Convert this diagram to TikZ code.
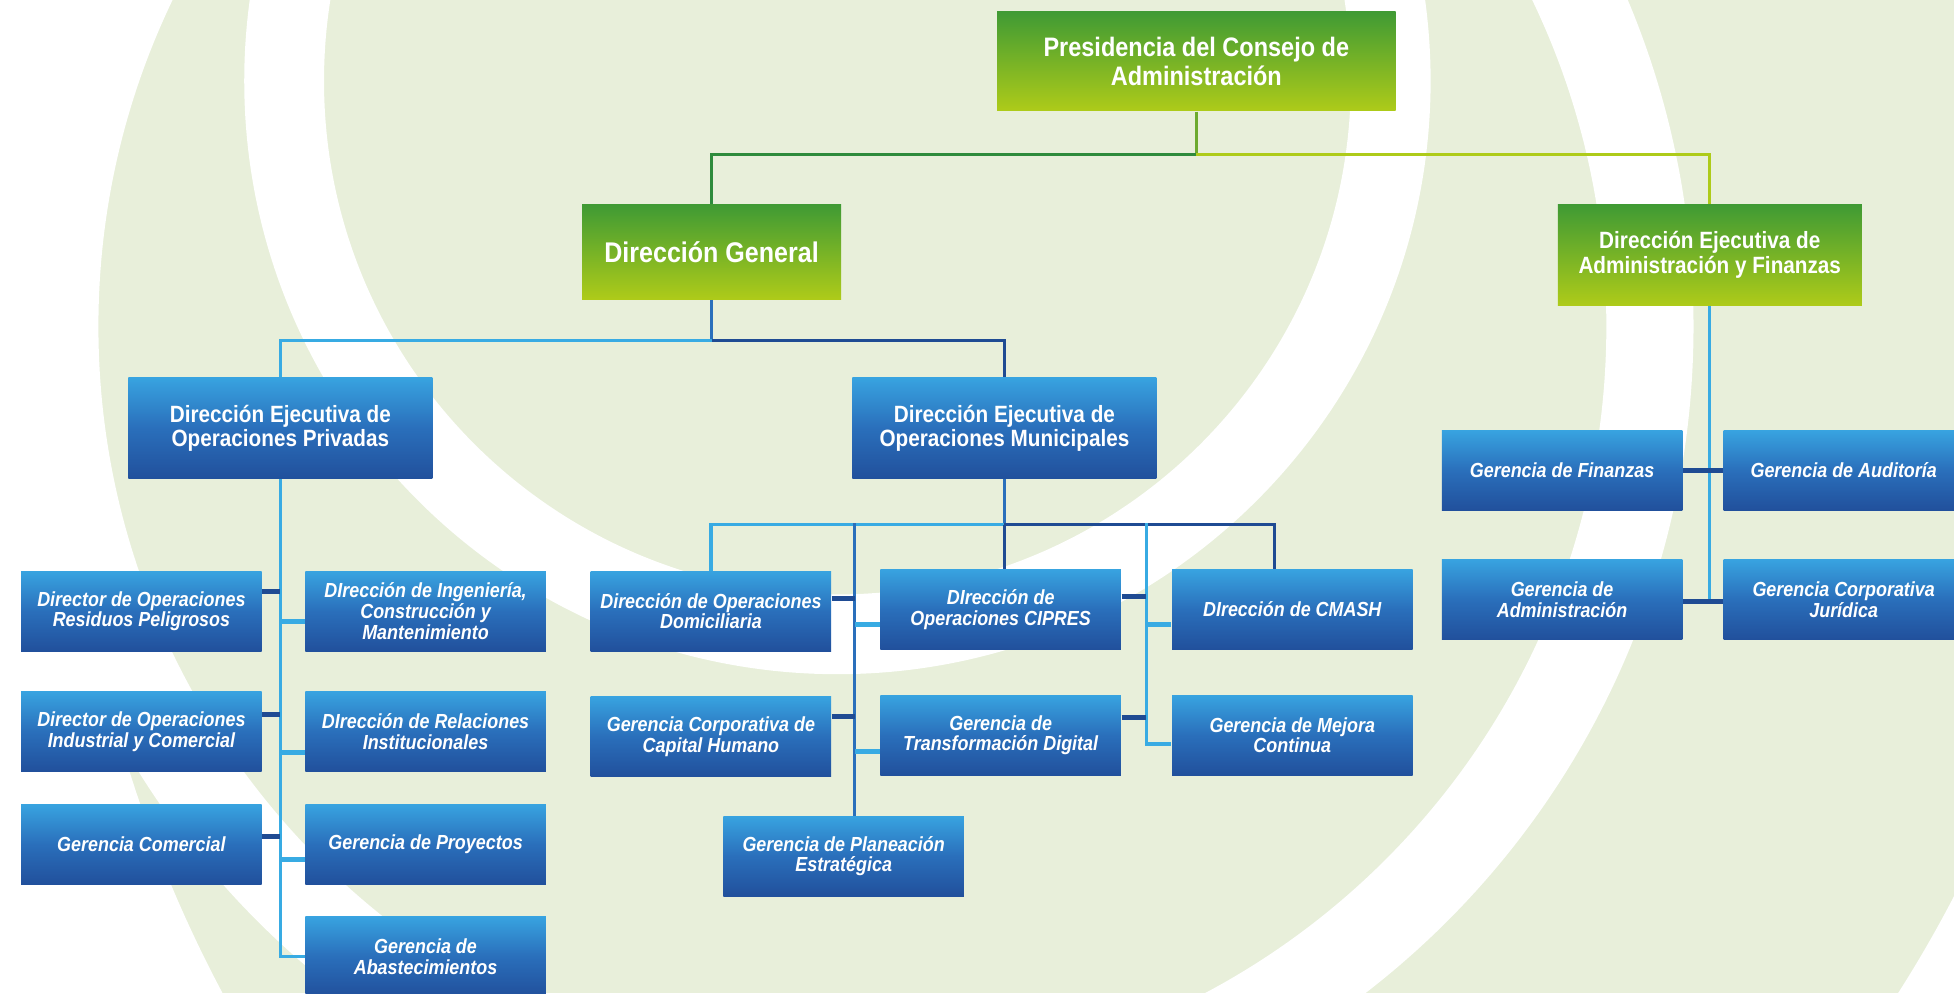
\documentclass[tikz,border=0pt]{standalone}
\usepackage{fontspec}
\setmainfont{Liberation Sans}[FakeStretch=0.88]
\usetikzlibrary{calc}
\definecolor{fondo}{HTML}{E8EFDA}
\definecolor{verdeOsc}{HTML}{3F9A34}
\definecolor{verdeLim}{HTML}{AECB19}
\definecolor{verdeMedio}{HTML}{6DAA2F}
\definecolor{lineaVerde}{HTML}{2E8B3C}
\definecolor{azulClaro}{HTML}{38A3E0}
\definecolor{azulMed}{HTML}{2A6FBB}
\definecolor{azulOsc}{HTML}{21509C}
\definecolor{lineaClara}{HTML}{38ABE3}
\definecolor{lineaOsc}{HTML}{1F4B93}

\tikzset{
  caja/.style={text=white, align=center, inner sep=1pt},
  verdeBox/.style={caja, top color=verdeOsc, bottom color=verdeLim},
  azulBox/.style={caja, top color=azulClaro, bottom color=azulOsc, middle color=azulMed},
  jefe/.style={azulBox, minimum width=3.041cm, minimum height=1.009cm,
    font=\fontsize{6.7}{6.9}\selectfont\bfseries},
  hoja/.style={azulBox, minimum width=2.405cm, minimum height=0.798cm,
    font=\fontsize{5.8}{5.9}\selectfont\bfseries\itshape},
  linea/.style={line width=0.9pt},
  tramo/.style={line width=1.4pt, lineaOsc},
}

\begin{document}
\begin{tikzpicture}[x=0.012462cm, y=-0.012462cm]
  \useasboundingbox (0,0) rectangle (1568,797);
  \clip (0,0) rectangle (1568,797);
  % fondo con los arcos blancos
  \fill[fondo] (0,0) rectangle (1568,797);
  \fill[white,even odd rule] (0,0) rectangle (1568,797) (1114,300) circle (1059);
  \fill[white,even odd rule] (0,0) rectangle (1568,797) (684,262) circle (995);
  \draw[white,line width=0.872cm] (684,262) circle (640);
  \draw[white,line width=0.798cm] (672,65) circle (444);

  % nivel superior
  \node[verdeBox, minimum width=3.988cm, minimum height=0.997cm,
    font=\fontsize{7.6}{8.2}\selectfont\bfseries] (presidencia) at (960,49)
    {Presidencia del Consejo de\\Administración};
  \node[verdeBox, minimum width=2.592cm, minimum height=0.947cm,
    font=\fontsize{8.1}{9}\selectfont\bfseries] (dirGeneral) at (571,202)
    {Dirección General};
  \node[verdeBox, minimum width=3.041cm, minimum height=1.009cm,
    font=\fontsize{6.7}{6.9}\selectfont\bfseries] (dirAdmin) at (1372,204.5)
    {Dirección Ejecutiva de\\Administración y Finanzas};
  \node[jefe] (dirPrivadas) at (225,343.5) {Dirección Ejecutiva de\\Operaciones Privadas};
  \node[jefe] (dirMunicipales) at (806,343.5) {Dirección Ejecutiva de\\Operaciones Municipales};

  % operaciones privadas
  \node[hoja] (residuos) at (113.5,490.5) {Director de Operaciones\\Residuos Peligrosos};
  \node[hoja] (ingenieria) at (341.5,490.5) {DIrección de Ingeniería,\\Construcción y\\Mantenimiento};
  \node[hoja] (industrial) at (113.5,587) {Director de Operaciones\\Industrial y Comercial};
  \node[hoja] (relaciones) at (341.5,587) {DIrección de Relaciones\\Institucionales};
  \node[hoja] (comercial) at (113.5,677.5) {Gerencia Comercial};
  \node[hoja] (proyectos) at (341.5,677.5) {Gerencia de Proyectos};
  \node[hoja] (abastecimientos) at (341.5,767.5) {Gerencia de\\Abastecimientos};

  % operaciones municipales
  \node[hoja] (domiciliaria) at (570.5,490.5) {Dirección de Operaciones\\Domiciliaria};
  \node[hoja] (cipres) at (803,489) {DIrección de\\Operaciones CIPRES};
  \node[hoja] (cmash) at (1037,489) {DIrección de CMASH};
  \node[hoja] (capitalHumano) at (570.5,591) {Gerencia Corporativa de\\Capital Humano};
  \node[hoja] (transformacion) at (803,590) {Gerencia de\\Transformación Digital};
  \node[hoja] (mejora) at (1037,590) {Gerencia de Mejora\\Continua};
  \node[hoja] (planeacion) at (677,687) {Gerencia de Planeación\\Estratégica};

  % administracion y finanzas
  \node[hoja] (finanzas) at (1253.5,377.5) {Gerencia de Finanzas};
  \node[hoja] (auditoria) at (1479.5,377.5) {Gerencia de Auditoría};
  \node[hoja] (administracion) at (1253.5,481) {Gerencia de\\Administración};
  \node[hoja] (juridica) at (1479.5,481) {Gerencia Corporativa\\Jurídica};

  % conectores de la direccion
  \draw[linea,verdeMedio] (presidencia.south) -- ++(0,34.5) coordinate (jPres);
  \draw[linea,lineaVerde] (jPres) -| (dirGeneral.north);
  \draw[linea,verdeLim] (jPres) -| (dirAdmin.north);
  \draw[linea,azulMed] (dirGeneral.south) -- ++(0,32.5) coordinate (jGeneral);
  \draw[linea,lineaClara] (jGeneral) -| (dirPrivadas.north);
  \draw[linea,lineaOsc] (jGeneral) -| (dirMunicipales.north);

  % tronco de operaciones privadas
  \draw[linea,lineaClara] (dirPrivadas.south) |- (abastecimientos.west);
  \draw[tramo] ($(residuos.east)+(0,-16)$) -- ($(residuos.east -| dirPrivadas.south)+(0,-16)$);
  \draw[tramo] ($(industrial.east)+(0,-14)$) -- ($(industrial.east -| dirPrivadas.south)+(0,-14)$);
  \draw[tramo] ($(comercial.east)+(0,-6)$) -- ($(comercial.east -| dirPrivadas.south)+(0,-6)$);
  \draw[tramo,lineaClara] ($(ingenieria.west -| dirPrivadas.south)+(0,8)$) -- ($(ingenieria.west)+(0,8)$);
  \draw[tramo,lineaClara] ($(relaciones.west -| dirPrivadas.south)+(0,17)$) -- ($(relaciones.west)+(0,17)$);
  \draw[tramo,lineaClara] ($(proyectos.west -| dirPrivadas.south)+(0,12)$) -- ($(proyectos.west)+(0,12)$);

  % troncos de operaciones municipales
  \draw[linea,azulMed] (dirMunicipales.south) -- ++(0,36.5) coordinate (jMunicipal);
  \draw[linea,lineaClara] (jMunicipal) -| (domiciliaria.north);
  \draw[linea,lineaOsc] (jMunicipal) -| ($(cmash.north)+(-14,0)$);
  \draw[linea,lineaOsc] (jMunicipal) -- (jMunicipal |- cipres.north);
  \coordinate (troncoIzq) at (686,420);
  \coordinate (troncoDer) at (920,420);
  \draw[linea,azulMed] (troncoIzq) -- (troncoIzq |- planeacion.north);
  \draw[linea,lineaClara] (troncoDer) |- ($(mejora.west)+(0,7)$);
  \draw[tramo] ($(domiciliaria.east)+(0,-10)$) -- ($(domiciliaria.east -| troncoIzq)+(0,-10)$);
  \draw[tramo] ($(capitalHumano.east)+(0,-16)$) -- ($(capitalHumano.east -| troncoIzq)+(0,-16)$);
  \draw[tramo,lineaClara] ($(cipres.west -| troncoIzq)+(0,12)$) -- ($(cipres.west)+(0,12)$);
  \draw[tramo,lineaClara] ($(transformacion.west -| troncoIzq)+(0,13)$) -- ($(transformacion.west)+(0,13)$);
  \draw[tramo] ($(cipres.east)+(0,-10)$) -- ($(cipres.east -| troncoDer)+(0,-10)$);
  \draw[tramo] ($(transformacion.east)+(0,-14)$) -- ($(transformacion.east -| troncoDer)+(0,-14)$);
  \draw[tramo,lineaClara] ($(cmash.west -| troncoDer)+(0,12)$) -- ($(cmash.west)+(0,12)$);

  % administracion y finanzas
  \draw[linea,lineaClara] (dirAdmin.south) -- ($(dirAdmin.south |- administracion.east)+(0,2)$);
  \draw[tramo] (finanzas.east) -- (auditoria.west);
  \draw[tramo] ($(administracion.east)+(0,2)$) -- ($(juridica.west)+(0,2)$);
\end{tikzpicture}
\end{document}
